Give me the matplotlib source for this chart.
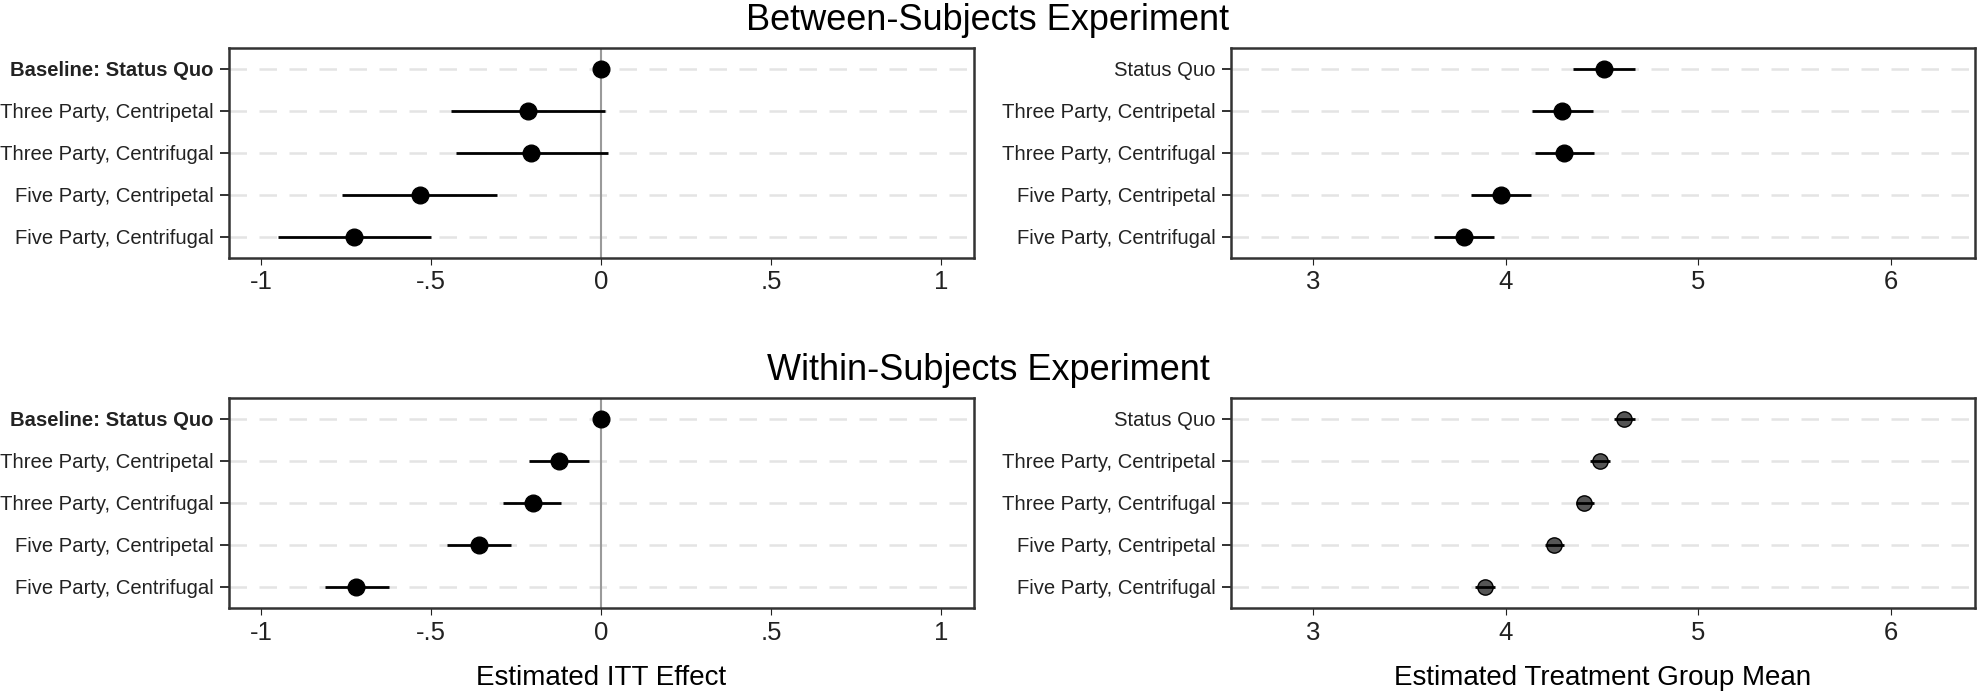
import numpy as np
import matplotlib
matplotlib.use("Agg")
import matplotlib.pyplot as plt

plt.rcParams["font.family"] = ["Liberation Sans", "DejaVu Sans"]

# --------------------------------------------------------------------------- #
# data
# --------------------------------------------------------------------------- #
itt_labels = ["Baseline: Status Quo", "Three Party, Centripetal",
              "Three Party, Centrifugal", "Five Party, Centripetal",
              "Five Party, Centrifugal"]
mean_labels = ["Status Quo", "Three Party, Centripetal",
               "Three Party, Centrifugal", "Five Party, Centripetal",
               "Five Party, Centrifugal"]

# between-subjects
btw_itt = [0.0, -0.216, -0.205, -0.534, -0.726]
btw_itt_lo = [np.nan, -0.441, -0.428, -0.761, -0.949]
btw_itt_hi = [np.nan, 0.011, 0.019, -0.307, -0.500]

btw_mean = [4.511, 4.295, 4.305, 3.976, 3.786]
btw_mean_lo = [4.351, 4.139, 4.152, 3.822, 3.630]
btw_mean_hi = [4.670, 4.452, 4.458, 4.132, 3.940]

# within-subjects
wth_itt = [0.0, -0.123, -0.201, -0.359, -0.720]
wth_itt_lo = [np.nan, -0.212, -0.288, -0.454, -0.813]
wth_itt_hi = [np.nan, -0.035, -0.117, -0.264, -0.625]

wth_mean = [4.615, 4.488, 4.409, 4.253, 3.894]
wth_mean_lo = [4.560, 4.436, 4.364, 4.204, 3.842]
wth_mean_hi = [4.670, 4.540, 4.458, 4.305, 3.946]

itt_ticks = [-1, -0.5, 0, 0.5, 1]
itt_ticklabels = ["-1", "-.5", "0", ".5", "1"]
mean_ticks = [3, 4, 5, 6]
mean_ticklabels = ["3", "4", "5", "6"]


def coef_panel(ax, est, lo, hi, labels, xlim, ticks, ticklabels,
               zero_line=False, face="black", ms=12):
    y = np.arange(1, len(est) + 1)
    for yy in y:
        ax.axhline(yy, color="#e4e4e4", lw=1.8, ls=(0, (7, 5)), zorder=0)
    if zero_line:
        ax.axvline(0, color="#9a9a9a", lw=1.5, zorder=1)
    for yy, l, h in zip(y, lo, hi):
        if np.isfinite(l):
            ax.plot([l, h], [yy, yy], color="black", lw=2.0, zorder=4,
                    solid_capstyle="butt")
    ax.plot(est, y, "o", ms=ms, mfc=face, mec="black", mew=1.0,
            ls="none", zorder=3)
    ax.set_xlim(*xlim)
    ax.set_ylim(5.5, 0.5)
    ax.set_yticks(y)
    ax.set_yticklabels(labels, fontsize=14.6)
    ax.set_xticks(ticks)
    ax.set_xticklabels(ticklabels, fontsize=18.5)
    ax.tick_params(axis="y", length=6.5, width=1.3, pad=4, colors="#222")
    ax.tick_params(axis="x", length=5, width=0.8, pad=4, colors="#222")
    for s in ax.spines.values():
        s.set_color("#333333")
        s.set_linewidth(1.8)
    for lab in ax.get_yticklabels():
        if lab.get_text().startswith("Baseline"):
            lab.set_fontweight("bold")


fig = plt.figure(figsize=(19.77, 6.92), dpi=100)
W, H = 1977, 692

def add_axes(x0, x1, y0, y1):
    return fig.add_axes([x0 / W, 1 - y1 / H, (x1 - x0) / W, (y1 - y0) / H])

ax_tl = add_axes(228.5, 974, 47.7, 258)
ax_tr = add_axes(1230.5, 1975, 47.7, 258)
ax_bl = add_axes(228.5, 974, 398, 608)
ax_br = add_axes(1230.5, 1975, 398, 608)

itt_lim = (-1.096, 1.097)
mean_lim = (2.573, 6.435)

coef_panel(ax_tl, btw_itt, btw_itt_lo, btw_itt_hi, itt_labels, itt_lim,
           itt_ticks, itt_ticklabels, zero_line=True)
coef_panel(ax_tr, btw_mean, btw_mean_lo, btw_mean_hi, mean_labels, mean_lim,
           mean_ticks, mean_ticklabels)
coef_panel(ax_bl, wth_itt, wth_itt_lo, wth_itt_hi, itt_labels, itt_lim,
           itt_ticks, itt_ticklabels, zero_line=True)
coef_panel(ax_br, wth_mean, wth_mean_lo, wth_mean_hi, mean_labels, mean_lim,
           mean_ticks, mean_ticklabels, face="#555555", ms=11)

ax_bl.set_xlabel("Estimated ITT Effect", fontsize=20)
ax_br.set_xlabel("Estimated Treatment Group Mean", fontsize=20)
ax_bl.xaxis.set_label_coords(0.5, -0.27)
ax_br.xaxis.set_label_coords(0.5, -0.27)

fig.text(988 / W, 1 - 21 / H, "Between-Subjects Experiment", fontsize=26,
         ha="center", va="center")
fig.text(988 / W, 1 - 370 / H, "Within-Subjects Experiment", fontsize=26,
         ha="center", va="center")

fig.savefig("out.png", dpi=100)
